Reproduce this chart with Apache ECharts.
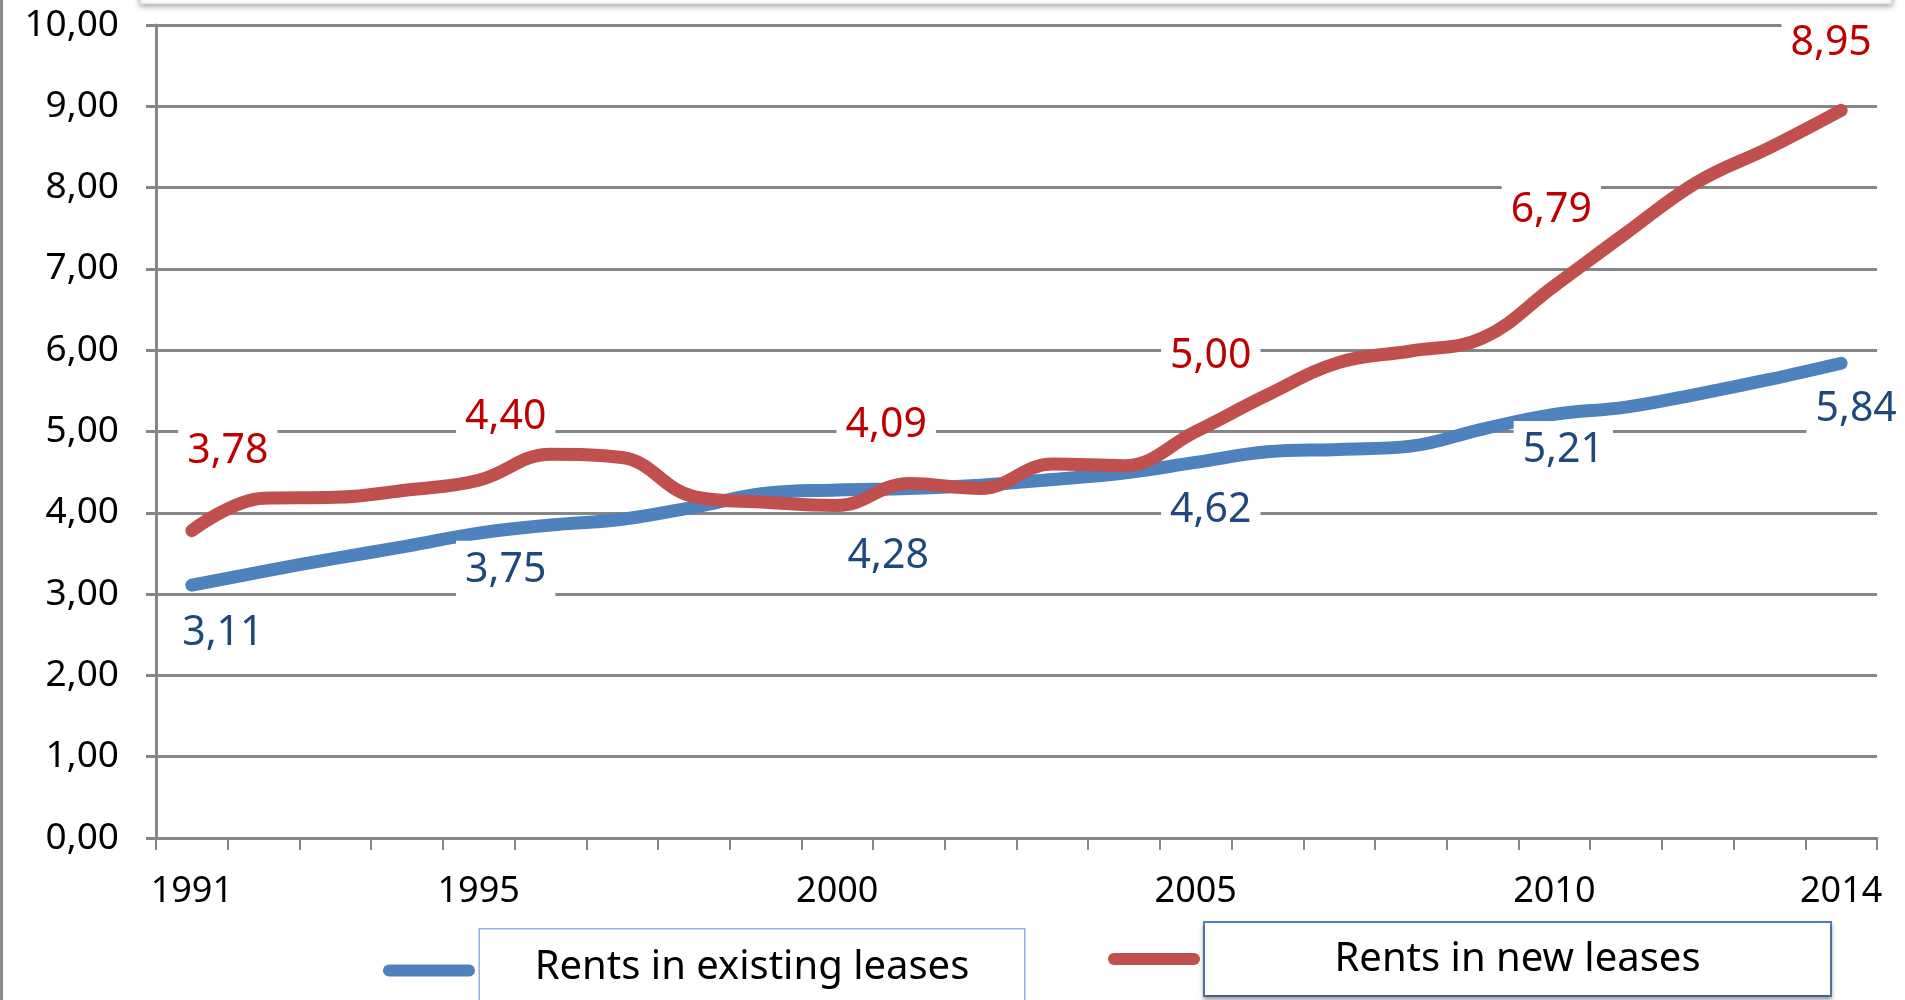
<!DOCTYPE html>
<html>
<head>
<meta charset="utf-8">
<title>Rents</title>
<script src="https://cdn.jsdelivr.net/npm/echarts@6/dist/echarts.min.js"></script>
<style>
  html, body { margin: 0; padding: 0; background: #fff; }
  #chart { width: 1905px; height: 1000px; }
</style>
</head>
<body>
<div id="chart"></div>
<script>
// data
const years = ['1991', '1992', '1993', '1994', '1995', '1996', '1997', '1998', '1999', '2000', '2001', '2002',
  '2003', '2004', '2005', '2006', '2007', '2008', '2009', '2010', '2011', '2012', '2013', '2014']
const existingRents = [3.11, 3.28, 3.44, 3.59, 3.75, 3.85, 3.92, 4.07, 4.24, 4.28, 4.30, 4.34,
  4.41, 4.49, 4.62, 4.75, 4.78, 4.82, 5.03, 5.21, 5.30, 5.46, 5.64, 5.84]
const newRents = [3.78, 4.18, 4.19, 4.28, 4.40, 4.72, 4.68, 4.20, 4.13, 4.09, 4.36, 4.30,
  4.60, 4.58, 5.00, 5.45, 5.85, 5.99, 6.15, 6.79, 7.44, 8.07, 8.49, 8.95]
const labelledYears = ['1991', '1995', '2000', '2005', '2010', '2014']

// where each value label sits relative to its point
const newOffsets = [[36, -79], [27, -63], [49, -80], [15, -75], [-3, -76], [-10, -67]]
const existingOffsets = [[31, 48], [27, 37], [51, 66], [15, 48], [9, 36], [15, 46]]

const FONT = '"Noto Sans", "Open Sans", sans-serif'
const comma = v => v.toFixed(2).replace('.', ',')

function withLabels(values, offsets, color) {
  return values.map((v, i) => {
    const k = labelledYears.indexOf(years[i])
    if (k < 0) return v
    return {
      value: v,
      label: {
        show: true,
        position: 'inside',
        offset: offsets[k],
        formatter: p => comma(p.value),
        color: color,
        fontFamily: FONT,
        fontSize: 41,
        backgroundColor: '#fff',
        padding: [9, 9]
      }
    }
  })
}

const lineIcon = 'path://M6,0 H86 A6,6 0 0 1 86,12 H6 A6,6 0 0 1 6,0 Z'

const option = {
  animation: false,
  grid: { left: 156, right: 28, top: 25, bottom: 162 },
  graphic: [
    { type: 'rect', shape: { x: 0, y: 0, width: 3, height: 1000 }, style: { fill: '#8a8a8a' } },
    {
      type: 'rect', shape: { x: 140, y: -60, width: 1752, height: 64 },
      style: { fill: '#fff', stroke: '#d0d0d0', lineWidth: 1, shadowBlur: 6, shadowColor: 'rgba(0,0,0,0.35)', shadowOffsetY: 2 }
    }
  ],
  xAxis: {
    type: 'category',
    data: years,
    boundaryGap: true,
    axisLine: { lineStyle: { color: '#868686', width: 3 } },
    axisTick: { show: true, interval: 0, length: 12, lineStyle: { color: '#868686', width: 2 } },
    axisLabel: {
      interval: (i, name) => labelledYears.indexOf(name) >= 0,
      color: '#000',
      fontFamily: FONT,
      fontSize: 36,
      margin: 36
    },
    splitLine: { show: false }
  },
  yAxis: {
    type: 'value',
    min: 0,
    max: 10,
    interval: 1,
    axisLine: { show: true, lineStyle: { color: '#868686', width: 3 } },
    axisTick: { show: true, length: 10, lineStyle: { color: '#868686', width: 3 } },
    axisLabel: {
      formatter: v => comma(v),
      color: '#000',
      fontFamily: FONT,
      fontSize: 37,
      margin: 37
    },
    splitLine: { lineStyle: { color: '#868686', width: 3 } }
  },
  legend: [
    {
      data: [{ name: 'Rents in existing leases', icon: lineIcon }],
      left: 383,
      top: 928,
      padding: 0,
      itemWidth: 92,
      itemHeight: 12,
      formatter: '{t|{name}}',
      textStyle: {
        color: '#000',
        fontFamily: FONT,
        fontSize: 40,
        backgroundColor: '#fff',
        borderColor: '#8eb4e3',
        borderWidth: 1.5,
        padding: [15, 10, 21, 10],
        rich: { t: { width: 524, align: 'center', fontFamily: FONT, fontSize: 40, lineHeight: 46, color: '#000' } }
      }
    },
    {
      data: [{ name: 'Rents in new leases', icon: lineIcon }],
      left: 1108,
      top: 921,
      padding: 0,
      itemWidth: 92,
      itemHeight: 12,
      formatter: '{t|{name}}',
      textStyle: {
        color: '#000',
        fontFamily: FONT,
        fontSize: 40,
        backgroundColor: '#fff',
        borderColor: '#4f81bd',
        borderWidth: 2,
        padding: [14, 10, 12, 10],
        shadowColor: 'rgba(0,0,0,0.3)',
        shadowBlur: 4,
        shadowOffsetY: 3,
        rich: { t: { width: 605, align: 'center', fontFamily: FONT, fontSize: 40, lineHeight: 46, color: '#000' } }
      }
    }
  ],
  series: [
    {
      name: 'Rents in existing leases',
      type: 'line',
      data: withLabels(existingRents, existingOffsets, '#1f497d'),
      smooth: 0.4,
      symbol: 'circle',
      symbolSize: 1,
      itemStyle: { color: '#4f81bd' },
      lineStyle: { color: '#4f81bd', width: 13, cap: 'round', join: 'round' }
    },
    {
      name: 'Rents in new leases',
      type: 'line',
      data: withLabels(newRents, newOffsets, '#c00000'),
      smooth: 0.4,
      symbol: 'circle',
      symbolSize: 1,
      itemStyle: { color: '#c0504d' },
      lineStyle: { color: '#c0504d', width: 13, cap: 'round', join: 'round' }
    }
  ]
}

const chart = echarts.init(document.getElementById('chart'))
chart.setOption(option)
</script>
</body>
</html>
